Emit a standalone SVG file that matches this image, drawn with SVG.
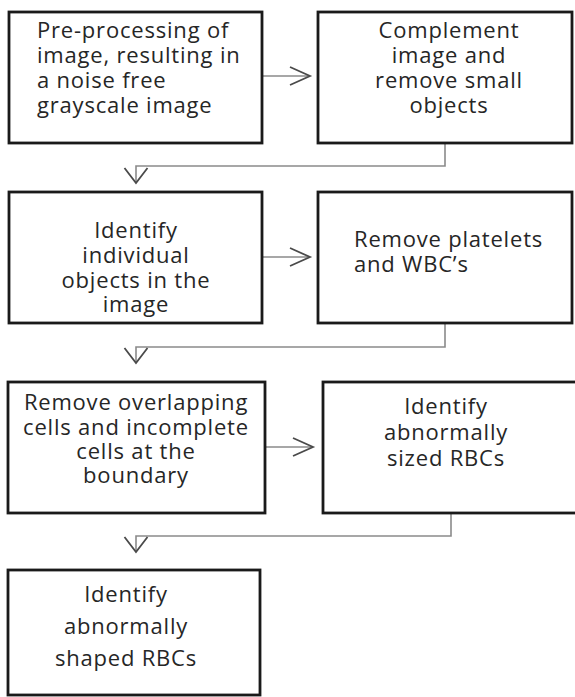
<svg xmlns="http://www.w3.org/2000/svg" width="575" height="697" viewBox="0 0 575 697">
<style>
.box{fill:#ffffff;stroke:#1a1a1a;stroke-width:2.8}
.t{font-family:"Open Sans","Noto Sans","DejaVu Sans",sans-serif;font-size:22px;fill:#262626;letter-spacing:0.8px}
.c{text-anchor:middle}
.con{fill:none;stroke:#8a8a8a;stroke-width:1.6}
</style>
<defs>
<marker id="mh" markerUnits="userSpaceOnUse" markerWidth="30" markerHeight="30" viewBox="-25 -15 30 30" refX="0" refY="0" orient="auto" overflow="visible">
<path d="M-20,-9 L0,0 L-20,9" fill="none" stroke="#4a4a4a" stroke-width="1.8"/>
</marker>
<marker id="mv" markerUnits="userSpaceOnUse" markerWidth="30" markerHeight="30" viewBox="-25 -15 30 30" refX="0" refY="0" orient="auto" overflow="visible">
<path d="M-15,-11.5 L0,0 L-15,11.5" fill="none" stroke="#4a4a4a" stroke-width="1.8"/>
</marker>
</defs>
<rect width="575" height="697" fill="#ffffff"/>
<g id="connectors">
<path class="con" d="M262,76 H310" marker-end="url(#mh)"/>
<path class="con" d="M445,143 V166 H136 V183" marker-end="url(#mv)"/>
<path class="con" d="M262,257 H310" marker-end="url(#mh)"/>
<path class="con" d="M445,323 V347 H136 V363" marker-end="url(#mv)"/>
<path class="con" d="M265,447 H313" marker-end="url(#mh)"/>
<path class="con" d="M451,513 V536 H136 V552" marker-end="url(#mv)"/>
</g>
<g id="n1">
<rect class="box" x="9" y="12" width="253" height="131"/>
<text class="t" x="37" y="38">Pre-processing of</text>
<text class="t" x="37" y="63">image, resulting in</text>
<text class="t" x="37" y="88">a noise free</text>
<text class="t" x="37" y="113">grayscale image</text>
</g>
<g id="n2">
<rect class="box" x="318" y="12" width="254" height="131"/>
<text class="t c" x="449" y="38">Complement</text>
<text class="t c" x="449" y="63">image and</text>
<text class="t c" x="449" y="88">remove small</text>
<text class="t c" x="449" y="113">objects</text>
</g>
<g id="n3">
<rect class="box" x="9" y="192" width="253" height="131"/>
<text class="t c" x="136" y="238">Identify</text>
<text class="t c" x="136" y="263">individual</text>
<text class="t c" x="136" y="288">objects in the</text>
<text class="t c" x="136" y="312">image</text>
</g>
<g id="n4">
<rect class="box" x="318" y="192" width="254" height="131"/>
<text class="t" x="354" y="247">Remove platelets</text>
<text class="t" x="354" y="272">and WBC’s</text>
</g>
<g id="n5">
<rect class="box" x="8" y="382" width="257" height="131"/>
<text class="t c" x="136" y="410">Remove overlapping</text>
<text class="t c" x="136" y="435">cells and incomplete</text>
<text class="t c" x="136" y="459">cells at the</text>
<text class="t c" x="136" y="483">boundary</text>
</g>
<g id="n6">
<rect class="box" x="323" y="382" width="256" height="131"/>
<text class="t c" x="446" y="414">Identify</text>
<text class="t c" x="446" y="440">abnormally</text>
<text class="t c" x="446" y="466">sized RBCs</text>
</g>
<g id="n7">
<rect class="box" x="8" y="570" width="252" height="125"/>
<text class="t c" x="126" y="602">Identify</text>
<text class="t c" x="126" y="634">abnormally</text>
<text class="t c" x="126" y="666">shaped RBCs</text>
</g>
</svg>
